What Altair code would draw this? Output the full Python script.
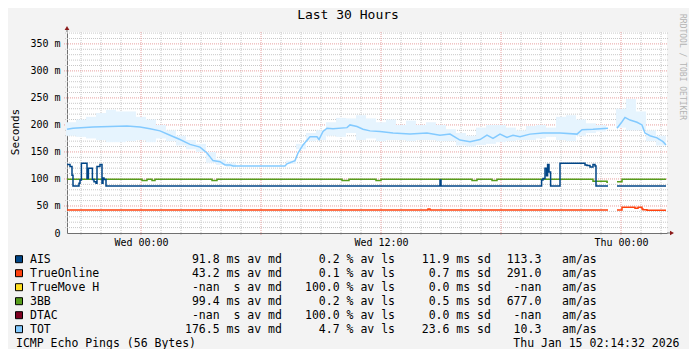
import re
import altair as alt
import pandas as pd

FONT = "DejaVu Sans Mono"

# ---------------- data (x = hours relative to Wed 00:00, y = ms) ----------------
X_DOMAIN = [-3.7, 26.3]
Y_DOMAIN = [0, 372]

tick_hours = [0, 12, 24]
tick_labels = ["Wed 00:00", "Wed 12:00", "Thu 00:00"]
y_ticks = [0, 50, 100, 150, 200, 250, 300, 350]

title_text = "Last 30 Hours"
y_title = "Seconds"
side_text = "RRDTOOL / TOBI OETIKER"
footer_left = "ICMP Echo Pings (56 Bytes)"
footer_right = "Thu Jan 15 02:14:32 2026"

names = ["AIS", "TrueOnline", "TrueMove H", "3BB", "DTAC", "TOT"]
colors = ["#004586", "#ff420e", "#ffde20", "#579d1c", "#7e0021", "#83caff"]
av_md = [91.8, 43.2, None, 99.4, None, 176.5]
av_ls = [0.2, 0.1, 100.0, 0.2, 100.0, 4.7]
sd = [11.9, 0.7, 0.0, 0.5, 0.0, 23.6]
amas = [113.3, 291.0, None, 677.0, None, 10.3]

# AIS (step)
ais_h = [-3.7, -3.55, -3.45, -3.4, -3.1, -3.05, -2.98, -2.7, -2.63, -2.43, -2.35, -2.25,
         -2.2, -2.05, -1.95, -1.9, -1.85, -1.75, 14.95, 15.0, 20.03, 20.1, 20.2, 20.28,
         20.33, 20.4, 20.48, 20.95, 22.2, 22.3, 22.45, 22.6, 22.7, 22.75, 23.35, 23.8, 26.25]
ais_v = [127, 123, 107, 87, 92, 98, 129, 101, 120, 99, 95, 92,
         123, 127, 92, 102, 99, 87, 98, 87, 98, 101, 120, 106,
         127, 113, 87, 129, 126, 125, 122, 127, 124, 87, 87, 87, 87]

# TrueOnline (step)
to_h = [-3.7, 14.35, 14.45, 23.35, 23.8, 24.05, 24.7, 24.85, 25.05, 25.1, 25.3, 26.25]
to_v = [42.5, 44.5, 42.5, 42.5, 42.5, 47.5, 45.7, 47.5, 44.5, 43, 42, 42]

# 3BB (step)
bb_h = [-3.7, 0.05, 0.3, 0.55, 0.7, 3.55, 3.8, 10.05, 10.4, 11.75, 12.0, 16.55, 16.8,
        17.55, 17.8, 22.6, 23.3, 23.35, 23.8, 24.05, 26.25]
bb_v = [99.5, 97, 99.5, 97, 99.5, 97, 99.5, 97, 99.5, 97, 99.5, 97, 99.5,
        97, 99.5, 96, 94, 94, 95, 99.5, 99.5]

# TOT (line)
tot_h = [-3.7, -3.4, -2.4, -1.55, -0.7, -0.05, 0.45, 0.95, 1.45, 1.95, 2.45, 2.95, 3.3, 3.6,
         3.95, 4.2, 4.45, 4.6, 5.95, 7.2, 7.3, 7.7, 7.85, 8.1, 8.45, 8.8, 8.9, 9.1, 9.3, 9.6,
         10.3, 10.45, 10.8, 11.1, 11.45, 11.95, 12.6, 13.45, 14.3, 14.95, 15.45, 15.95, 16.45,
         16.95, 17.3, 17.6, 17.95, 18.3, 18.6, 18.95, 19.45, 20.1, 20.95, 21.8, 22.05, 22.6,
         23.35, 23.8, 24.05, 24.2, 24.45, 24.8, 25.05, 25.2, 25.45, 25.8, 26.1, 26.25]
tot_v = [192, 194, 196, 197, 198, 196, 193, 189, 181, 173, 164, 159, 148, 134,
         132, 126, 126, 124, 124, 124, 128, 134, 148, 163, 178, 178, 173, 188, 194, 193,
         195, 200, 197, 192, 189, 188, 185, 183, 185, 181, 183, 172, 169,
         173, 181, 175, 183, 177, 181, 178, 183, 185, 185, 183, 191, 192,
         194, 194, 206, 214, 209, 205, 200, 185, 180, 176, 169, 163]

# TOT smoke (spread of pings)
sm_h = [-3.5, -3.0, -2.5, -2.0, -1.5, -1.0, -0.5, 0.0, 0.5, 1.0, 1.5, 2.0, 2.5, 3.0, 3.5, 4.0, 4.5,
        7.5, 8.0, 8.5, 9.0, 9.5, 10.0, 10.5, 11.0, 11.5, 12.0, 12.5, 13.0, 13.5, 14.0, 14.5, 15.0,
        15.5, 16.0, 16.5, 17.0, 17.5, 18.0, 18.5, 19.0, 19.5, 20.0, 20.5, 21.0, 21.5, 22.0, 22.5, 23.0,
        24.0, 24.5, 25.0, 25.5, 26.0]
sm_hi = [205, 210, 215, 222, 228, 225, 225, 215, 210, 200, 190, 180, 172, 165, 150, 136, 130,
         134, 165, 185, 190, 205, 213, 212, 218, 212, 205, 210, 200, 208, 200, 205, 200,
         192, 185, 180, 195, 200, 200, 195, 190, 198, 200, 195, 215, 218, 210, 203, 200,
         230, 248, 225, 190, 180]
sm_lo = [180, 178, 175, 172, 168, 168, 170, 172, 168, 175, 170, 162, 155, 150, 130, 126, 122,
         128, 155, 170, 172, 180, 178, 185, 172, 175, 170, 172, 172, 170, 172, 172, 170,
         170, 162, 160, 163, 165, 168, 170, 172, 172, 175, 178, 172, 170, 180, 185, 188,
         195, 190, 190, 170, 162]

GAP_START = 23.35

# ---------------- helpers ----------------
def seg_of(hs):
    return [0 if h <= GAP_START else 1 for h in hs]

def series_df(hs, vs):
    return pd.DataFrame({"h": hs, "v": vs, "seg": seg_of(hs)})

xs = alt.Scale(domain=X_DOMAIN, nice=False, zero=False)
ys = alt.Scale(domain=Y_DOMAIN, nice=False, zero=False)

expr = "''"
for h, l in reversed(list(zip(tick_hours, tick_labels))):
    expr = f"datum.value == {h} ? '{l}' : {expr}"

AXIS_COLOR = "#707070"
xaxis = alt.Axis(values=tick_hours, labelExpr=expr, grid=False, ticks=False, title=None,
                 domainColor=AXIS_COLOR, labelFont=FONT, labelFontSize=10, labelColor="#000000",
                 labelPadding=4, labelFlush=False, labelOverlap=False)
yaxis = alt.Axis(values=y_ticks, labelExpr="datum.value == 0 ? '0' : datum.value + ' m'",
                 grid=False, ticks=False, title=None, domainColor=AXIS_COLOR, labelFont=FONT,
                 labelFontSize=10, labelColor="#000000", labelPadding=7)

X = lambda f="h": alt.X(f + ":Q", scale=xs, axis=xaxis)
Y = lambda f="v": alt.Y(f + ":Q", scale=ys, axis=yaxis)

# ---------------- grid ----------------
minor_h = [h for h in range(-3, 27) if h % 6 != 0]
major_h = [h for h in range(-3, 27) if h % 6 == 0]
minor_v = [v for v in range(10, 371, 10) if v % 50 != 0]
major_v = [v for v in range(50, 351, 50)]

GRID_MINOR = "#c8c8c8"
GRID_MAJOR = "#e8a0a0"

g_vmin = alt.Chart(pd.DataFrame({"h": minor_h})).mark_rule(
    color=GRID_MINOR, strokeDash=[1, 1], strokeWidth=1).encode(
    x=X(), y=alt.value(0), y2=alt.value(203))
g_vmaj = alt.Chart(pd.DataFrame({"h": major_h})).mark_rule(
    color=GRID_MAJOR, strokeDash=[1, 1], strokeWidth=1).encode(
    x=X(), y=alt.value(0), y2=alt.value(204))
g_hmin = alt.Chart(pd.DataFrame({"v": minor_v})).mark_rule(
    color=GRID_MINOR, strokeDash=[1, 1], strokeWidth=1).encode(
    y=Y(), x=alt.value(-2), x2=alt.value(601))
g_hmaj = alt.Chart(pd.DataFrame({"v": major_v})).mark_rule(
    color=GRID_MAJOR, strokeDash=[1, 1], strokeWidth=1).encode(
    y=Y(), x=alt.value(-3), x2=alt.value(601))

# ---------------- data marks ----------------
smoke = alt.Chart(pd.DataFrame({"h": sm_h, "hi": sm_hi, "lo": sm_lo})).mark_rule(
    color="#e6f4fe", strokeWidth=10).encode(x=X(), y=Y("hi"), y2="lo:Q")

def line(hs, vs, color, interp):
    return alt.Chart(series_df(hs, vs)).mark_line(
        color=color, strokeWidth=1.5, interpolate=interp).encode(
        x=X(), y=Y(), detail="seg:N", order="h:Q")

l_to = line(to_h, to_v, colors[1], "step-after")
l_bb = line(bb_h, bb_v, colors[3], "step-after")
l_ais = line(ais_h, ais_v, colors[0], "step-after")
l_tot = line(tot_h, tot_v, colors[5], "linear")

# ---------------- axis arrows ----------------
arrow_df = pd.DataFrame({"a": [0]})
y_ext = alt.Chart(arrow_df).mark_rule(color=AXIS_COLOR).encode(
    x=alt.value(0), y=alt.value(-4), y2=alt.value(0))
x_ext = alt.Chart(arrow_df).mark_rule(color=AXIS_COLOR).encode(
    x=alt.value(600), x2=alt.value(604), y=alt.value(201))
arr_up = alt.Chart(arrow_df).mark_point(shape="triangle-up", filled=True, size=22,
                                         color="#8b1a1a", opacity=1).encode(
    x=alt.value(0), y=alt.value(-4))
arr_right = alt.Chart(arrow_df).mark_point(shape="triangle-right", filled=True, size=22,
                                            color="#8b1a1a", opacity=1).encode(
    x=alt.value(605), y=alt.value(201))

# ---------------- texts ----------------
def txt_chart(text, **kw):
    return alt.Chart(pd.DataFrame({"t": [text]})).mark_text(font=FONT, **kw)

t_title = txt_chart(title_text, fontSize=13, align="center", baseline="alphabetic",
                    color="#000000").encode(text="t:N", x=alt.value(281), y=alt.value(-13))
t_ytitle = txt_chart(y_title, fontSize=11, align="center", baseline="middle", angle=270,
                     color="#000000").encode(text="t:N", x=alt.value(-51), y=alt.value(100))
t_side = txt_chart(side_text, fontSize=8, align="center", baseline="middle", angle=90,
                   color="#b4b4b4").encode(text="t:N", x=alt.value(615), y=alt.value(35))

# legend / footer: monospace cells positioned on a character grid (page px -> plot px)
CW = 6.924            # DejaVu Sans Mono advance at 11.5px
OX, OY = 67, 32       # plot origin in page px

def fmt(v):
    return " -nan" if v is None else f"{v:5.1f}"

cells = []
def add_text(s, start_x, base_y):
    for m in re.finditer(r"\S+", s):
        cells.append({"t": m.group(0), "x": start_x + m.start() * CW - OX, "y": base_y - OY})

sq_rows = []
for i, n in enumerate(names):
    by = 263.3 + 14 * i
    a = fmt(av_md[i]) + (" ms" if av_md[i] is not None else "  s") + " av md"
    b = f"{av_ls[i]:5.1f} % av ls"
    c = f"{sd[i]:5.1f} ms sd"
    d = fmt(amas[i]) + "   am/as"
    add_text(n, 30, by)
    add_text(a, 185, by)
    add_text(b, 305, by)
    add_text(c, 414.8, by)
    add_text(d, 506.7, by)
    sq_rows.append({"color": colors[i], "x": 19 - OX, "y": 259.2 + 14 * i - OY})
add_text(footer_left, 16, 346.7)
add_text(footer_right, 513.3, 346.7)

cells_df = pd.DataFrame(cells)
sq_df = pd.DataFrame(sq_rows)

leg_sq = alt.Chart(sq_df).mark_square(size=49, filled=True, stroke="#000000", strokeWidth=1,
                                      opacity=1).encode(
    x=alt.X("x:Q", scale=None, axis=None), y=alt.Y("y:Q", scale=None, axis=None),
    fill=alt.Fill("color:N", scale=None))

leg_txt = alt.Chart(cells_df).mark_text(font=FONT, fontSize=11.5, align="left",
                                        baseline="alphabetic", color="#000000").encode(
    x=alt.X("x:Q", scale=None, axis=None), y=alt.Y("y:Q", scale=None, axis=None),
    text="t:N")

chart = alt.layer(
    g_vmin, g_hmin, g_vmaj, g_hmaj, smoke, l_to, l_bb, l_ais, l_tot,
    y_ext, x_ext, arr_up, arr_right,
    t_title, t_ytitle, t_side, leg_sq, leg_txt
).properties(
    width=600, height=201,
    autosize=alt.AutoSizeParams(type="none"),
    padding={"left": 59, "top": 24, "right": 22, "bottom": 116},
    background="#f3f3f3",
).configure_view(fill="#ffffff", stroke=None)

chart.save("out.html", embed_options={"renderer": "svg", "actions": False})
